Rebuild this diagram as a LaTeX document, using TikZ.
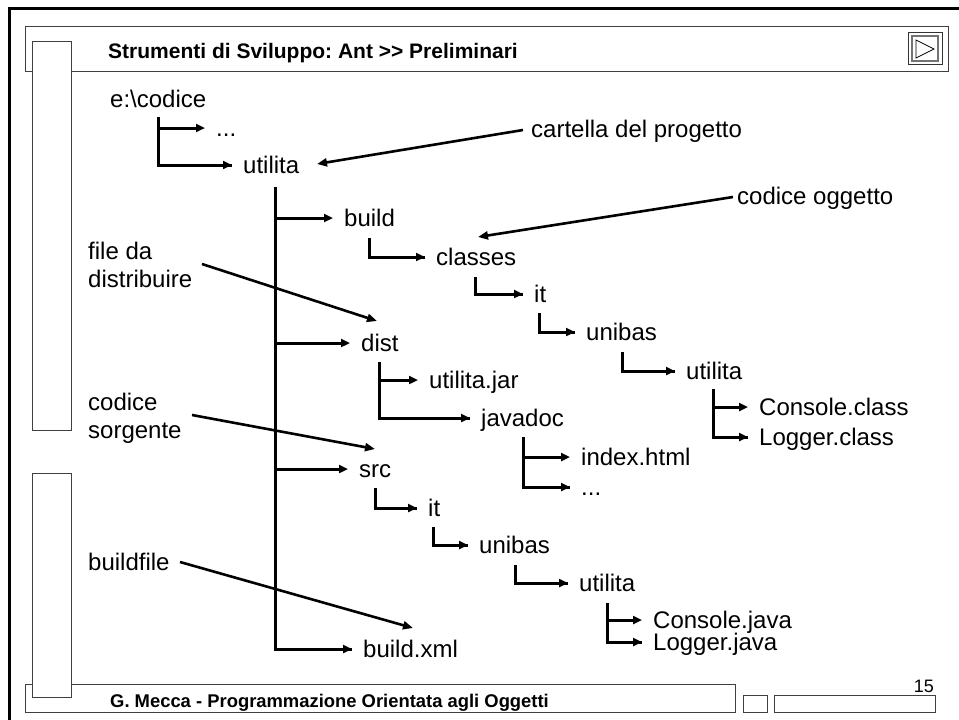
\documentclass[tikz,border=0pt]{standalone}
\usepackage{fontspec}
\setmainfont{Liberation Sans}
\usetikzlibrary{arrows.meta,calc}
\newcommand{\twolines}[2]{\begin{tabular}[t]{@{}l@{}}#1\\#2\end{tabular}}
\frenchspacing
\begin{document}
\begin{tikzpicture}[x=1pt,y=-1pt,
  lbl/.style={anchor=base west, inner sep=0pt, font=\fontsize{24}{28}\selectfont},
  tree/.style={line width=3pt},
  tarr/.style={line width=3pt, -{Triangle[length=9pt,width=8pt]}},
  ptr/.style={line width=2.6pt, -{Triangle[length=10pt,width=8pt]}},
  frm/.style={draw=black!75, line width=1pt},
]
\useasboundingbox (0,0) rectangle (959,720);
% outer frame
\draw[line width=3pt] (9.5,8.5) rectangle (960,722);
% header and footer boxes
\draw[frm] (25,26) rectangle (948,71);
\draw[frm] (25,684) rectangle (735,712);
\draw[frm] (743,695) rectangle (767,712);
\draw[frm] (774,695) rectangle (935,712);
% left side bars
\draw[frm, fill=white] (32,41) rectangle (71,430);
\draw[frm, fill=white] (32,473) rectangle (71,697);
% title, footer, page number
\node[anchor=base west, inner sep=0pt, font=\fontsize{21}{25}\selectfont\bfseries] (title) at (108,58) {Strumenti di Sviluppo: Ant >\kern0pt> Preliminari};
\node[anchor=base west, inner sep=0pt, font=\fontsize{18.4}{22}\selectfont\bfseries] (footer) at (110,707) {G. Mecca - Programmazione Orientata agli Oggetti};
\node[anchor=base east, inner sep=0pt, font=\fontsize{18}{22}\selectfont] (page) at (934,692) {15};
% nav button
\draw[draw=black!80, line width=1pt, fill=white] (908,32) rectangle (942,64);
\draw[draw=black!55, line width=2pt, fill=white] (912,35.5) rectangle (938,60.5);
\draw[line width=0.8pt] (916,40) -- (916,58) -- (934,49) -- cycle;

% tree nodes
\node[lbl] (root) at (110,107) {e:\textbackslash codice};
\node[lbl] (dots1) at (216,136) {...};
\node[lbl] (util1) at (243,173) {utilita};
\node[lbl] (build) at (344,226) {build};
\node[lbl] (classes) at (436,265) {classes};
\node[lbl] (it1) at (534,302) {it};
\node[lbl] (unibas1) at (586,340) {unibas};
\node[lbl] (util2) at (686,379) {utilita};
\node[lbl] (console1) at (759,415) {Console.class};
\node[lbl] (logger1) at (759,445) {Logger.class};
\node[lbl] (dist) at (361,351) {dist};
\node[lbl] (jar) at (429,388) {utilita.jar};
\node[lbl] (javadoc) at (481,426) {javadoc};
\node[lbl] (index) at (581,465) {index.html};
\node[lbl] (dots2) at (581,495) {...};
\node[lbl] (src) at (359,477) {src};
\node[lbl] (it2) at (428,516) {it};
\node[lbl] (unibas2) at (479,553) {unibas};
\node[lbl] (util3) at (579,591) {utilita};
\node[lbl] (console2) at (653,628) {Console.java};
\node[lbl] (logger2) at (653,650) {Logger.java};
\node[lbl] (buildxml) at (363,657) {build.xml};

% annotation nodes
\node[lbl] (cartella) at (531,137) {cartella del progetto};
\node[lbl] (coggetto) at (737,204) {codice oggetto};
\node[lbl] (fileda) at (88,259) {\twolines{file da}{distribuire}};
\node[lbl] (csorg) at (88,410) {\twolines{codice}{sorgente}};
\node[lbl] (bfile) at (88,570) {buildfile};

% entry points (arrow tips) of tree items
\foreach \n in {dots1,util1,build,classes,it1,unibas1,util2,console1,logger1,dist,jar,javadoc,index,dots2,src,it2,unibas2,util3,console2,logger2,buildxml}
  \coordinate (\n-in) at ($(\n.base west)+(-11,-8)$);
% stem tops
\coordinate (root-s) at ($(root.base west)+(48,10)$);
\coordinate (util1-s) at ($(util1.base west)+(32,14)$);
\coordinate (build-s) at ($(build.base west)+(25,12)$);
\coordinate (classes-s) at ($(classes.base west)+(39,12)$);
\coordinate (it1-s) at ($(it1.base west)+(5,11)$);
\coordinate (unibas1-s) at ($(unibas1.base west)+(36,12)$);
\coordinate (util2-s) at ($(util2.base west)+(27,10)$);
\coordinate (dist-s) at ($(dist.base west)+(18,11)$);
\coordinate (javadoc-s) at ($(javadoc.base west)+(42,11)$);
\coordinate (src-s) at ($(src.base west)+(16,11)$);
\coordinate (it2-s) at ($(it2.base west)+(5,11)$);
\coordinate (unibas2-s) at ($(unibas2.base west)+(36,12)$);
\coordinate (util3-s) at ($(util3.base west)+(28,12)$);

% tree connectors
\draw[tree] (root-s) |- (util1-in);
\draw[tarr] (root-s |- dots1-in) -- (dots1-in);
\draw[tarr] ($(root-s |- util1-in)+(-1.5,0)$) -- (util1-in);

\draw[tree] (util1-s) |- (buildxml-in);
\draw[tarr] (util1-s |- build-in) -- (build-in);
\draw[tarr] (util1-s |- dist-in) -- (dist-in);
\draw[tarr] (util1-s |- src-in) -- (src-in);
\draw[tarr] ($(util1-s |- buildxml-in)+(-1.5,0)$) -- (buildxml-in);

\draw[tree] (build-s) |- (classes-in);
\draw[tarr] ($(build-s |- classes-in)+(-1.5,0)$) -- (classes-in);
\draw[tree] (classes-s) |- (it1-in);
\draw[tarr] ($(classes-s |- it1-in)+(-1.5,0)$) -- (it1-in);
\draw[tree] (it1-s) |- (unibas1-in);
\draw[tarr] ($(it1-s |- unibas1-in)+(-1.5,0)$) -- (unibas1-in);
\draw[tree] (unibas1-s) |- (util2-in);
\draw[tarr] ($(unibas1-s |- util2-in)+(-1.5,0)$) -- (util2-in);
\draw[tree] (util2-s) |- (logger1-in);
\draw[tarr] (util2-s |- console1-in) -- (console1-in);
\draw[tarr] ($(util2-s |- logger1-in)+(-1.5,0)$) -- (logger1-in);

\draw[tree] (dist-s) |- (javadoc-in);
\draw[tarr] (dist-s |- jar-in) -- (jar-in);
\draw[tarr] ($(dist-s |- javadoc-in)+(-1.5,0)$) -- (javadoc-in);
\draw[tree] (javadoc-s) |- (dots2-in);
\draw[tarr] (javadoc-s |- index-in) -- (index-in);
\draw[tarr] ($(javadoc-s |- dots2-in)+(-1.5,0)$) -- (dots2-in);

\draw[tree] (src-s) |- (it2-in);
\draw[tarr] ($(src-s |- it2-in)+(-1.5,0)$) -- (it2-in);
\draw[tree] (it2-s) |- (unibas2-in);
\draw[tarr] ($(it2-s |- unibas2-in)+(-1.5,0)$) -- (unibas2-in);
\draw[tree] (unibas2-s) |- (util3-in);
\draw[tarr] ($(unibas2-s |- util3-in)+(-1.5,0)$) -- (util3-in);
\draw[tree] (util3-s) |- (logger2-in);
\draw[tarr] (util3-s |- console2-in) -- (console2-in);
\draw[tarr] ($(util3-s |- logger2-in)+(-1.5,0)$) -- (logger2-in);

% annotation pointers
\draw[ptr] ($(cartella.base west)+(-8,-7)$) -- ($(util1.base west)+(74,-9)$);
\draw[ptr] ($(coggetto.base west)+(-4,-7)$) -- ($(classes.base west)+(42,-28)$);
\draw[ptr] ($(fileda.base west)+(114,5)$) -- ($(dist.base west)+(16,-30)$);
\draw[ptr] ($(csorg.base west)+(104,5)$) -- ($(src.base west)+(16,-28)$);
\draw[ptr] ($(bfile.base west)+(92,-8)$) -- ($(buildxml.base west)+(50,-29)$);
\end{tikzpicture}
\end{document}
